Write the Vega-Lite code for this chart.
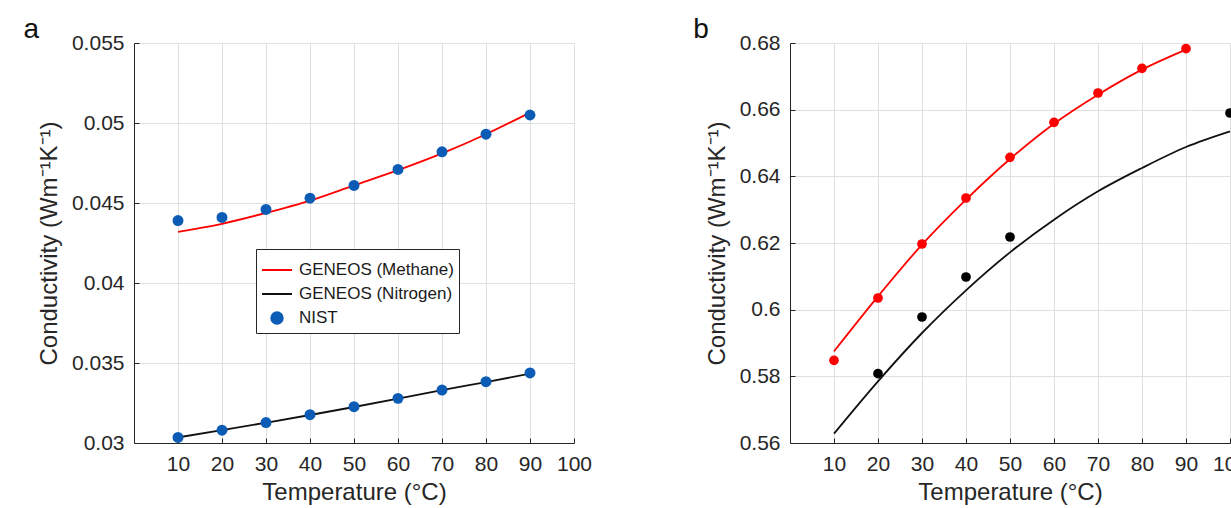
{
  "$schema": "https://vega.github.io/schema/vega-lite/v6.json",
  "background": "white",
  "padding": {"left": 23, "top": 16, "right": 5, "bottom": 2},
  "spacing": 101,
  "config": {
    "font": "Liberation Sans",
    "view": {"stroke": null},
    "axis": {
      "domainColor": "#262626", "tickColor": "#262626", "labelColor": "#262626", "titleColor": "#262626",
      "gridColor": "#e0e0e0", "labelFontSize": 21, "titleFontSize": 24, "titleFontWeight": "normal",
      "tickSize": -5, "labelPadding": 15, "domainWidth": 1, "gridWidth": 1, "labelFlush": false
    },
    "axisY": {"titlePadding": 10},
    "axisX": {"titlePadding": 6},
    "title": {"fontSize": 28, "fontWeight": "normal", "color": "#111111", "anchor": "start", "frame": "bounds", "offset": -12},
    "legend": {
      "orient": "none", "strokeColor": "#262626", "fillColor": "white", "padding": 5,
      "labelColor": "#1a1a1a", "labelOffset": 6, "rowPadding": 0, "labelFont": "Liberation Sans"
    }
  },
  "datasets": {
    "a": [
      {"series": "GENEOS (Methane)", "kind": "line", "T": 10, "k": 0.0432},
      {"series": "GENEOS (Methane)", "kind": "line", "T": 20, "k": 0.0437},
      {"series": "GENEOS (Methane)", "kind": "line", "T": 30, "k": 0.04438},
      {"series": "GENEOS (Methane)", "kind": "line", "T": 40, "k": 0.04515},
      {"series": "GENEOS (Methane)", "kind": "line", "T": 50, "k": 0.0461},
      {"series": "GENEOS (Methane)", "kind": "line", "T": 60, "k": 0.04705},
      {"series": "GENEOS (Methane)", "kind": "line", "T": 70, "k": 0.0481},
      {"series": "GENEOS (Methane)", "kind": "line", "T": 80, "k": 0.0493},
      {"series": "GENEOS (Methane)", "kind": "line", "T": 90, "k": 0.05065},
      {"series": "GENEOS (Nitrogen)", "kind": "line", "T": 10, "k": 0.03035},
      {"series": "GENEOS (Nitrogen)", "kind": "line", "T": 20, "k": 0.0308},
      {"series": "GENEOS (Nitrogen)", "kind": "line", "T": 30, "k": 0.03127},
      {"series": "GENEOS (Nitrogen)", "kind": "line", "T": 40, "k": 0.03175},
      {"series": "GENEOS (Nitrogen)", "kind": "line", "T": 50, "k": 0.03225},
      {"series": "GENEOS (Nitrogen)", "kind": "line", "T": 60, "k": 0.03277},
      {"series": "GENEOS (Nitrogen)", "kind": "line", "T": 70, "k": 0.0333},
      {"series": "GENEOS (Nitrogen)", "kind": "line", "T": 80, "k": 0.03381},
      {"series": "GENEOS (Nitrogen)", "kind": "line", "T": 90, "k": 0.03433},
      {"series": "NIST", "kind": "point", "T": 10, "k": 0.0439},
      {"series": "NIST", "kind": "point", "T": 20, "k": 0.0441},
      {"series": "NIST", "kind": "point", "T": 30, "k": 0.0446},
      {"series": "NIST", "kind": "point", "T": 40, "k": 0.0453},
      {"series": "NIST", "kind": "point", "T": 50, "k": 0.0461},
      {"series": "NIST", "kind": "point", "T": 60, "k": 0.0471},
      {"series": "NIST", "kind": "point", "T": 70, "k": 0.0482},
      {"series": "NIST", "kind": "point", "T": 80, "k": 0.0493},
      {"series": "NIST", "kind": "point", "T": 90, "k": 0.0505},
      {"series": "NIST", "kind": "point", "T": 10, "k": 0.03035},
      {"series": "NIST", "kind": "point", "T": 20, "k": 0.0308},
      {"series": "NIST", "kind": "point", "T": 30, "k": 0.03128},
      {"series": "NIST", "kind": "point", "T": 40, "k": 0.03177},
      {"series": "NIST", "kind": "point", "T": 50, "k": 0.03227},
      {"series": "NIST", "kind": "point", "T": 60, "k": 0.03279},
      {"series": "NIST", "kind": "point", "T": 70, "k": 0.03331},
      {"series": "NIST", "kind": "point", "T": 80, "k": 0.03383},
      {"series": "NIST", "kind": "point", "T": 90, "k": 0.03438}
    ],
    "b": [
      {"series": "GENEOS Pure Water)", "kind": "line", "T": 10, "k": 0.5875},
      {"series": "GENEOS Pure Water)", "kind": "line", "T": 20, "k": 0.604},
      {"series": "GENEOS Pure Water)", "kind": "line", "T": 30, "k": 0.6195},
      {"series": "GENEOS Pure Water)", "kind": "line", "T": 40, "k": 0.633},
      {"series": "GENEOS Pure Water)", "kind": "line", "T": 50, "k": 0.6452},
      {"series": "GENEOS Pure Water)", "kind": "line", "T": 60, "k": 0.6558},
      {"series": "GENEOS Pure Water)", "kind": "line", "T": 70, "k": 0.6645},
      {"series": "GENEOS Pure Water)", "kind": "line", "T": 80, "k": 0.672},
      {"series": "GENEOS Pure Water)", "kind": "line", "T": 90, "k": 0.678},
      {"series": "GENEOS (CaCl₂ solution)", "kind": "line", "T": 10, "k": 0.5628},
      {"series": "GENEOS (CaCl₂ solution)", "kind": "line", "T": 20, "k": 0.5785},
      {"series": "GENEOS (CaCl₂ solution)", "kind": "line", "T": 30, "k": 0.593},
      {"series": "GENEOS (CaCl₂ solution)", "kind": "line", "T": 40, "k": 0.6058},
      {"series": "GENEOS (CaCl₂ solution)", "kind": "line", "T": 50, "k": 0.6172},
      {"series": "GENEOS (CaCl₂ solution)", "kind": "line", "T": 60, "k": 0.627},
      {"series": "GENEOS (CaCl₂ solution)", "kind": "line", "T": 70, "k": 0.6355},
      {"series": "GENEOS (CaCl₂ solution)", "kind": "line", "T": 80, "k": 0.6425},
      {"series": "GENEOS (CaCl₂ solution)", "kind": "line", "T": 90, "k": 0.6488},
      {"series": "GENEOS (CaCl₂ solution)", "kind": "line", "T": 100, "k": 0.6535},
      {"series": "NIST (Pure Water)", "kind": "point", "T": 10, "k": 0.5848},
      {"series": "NIST (Pure Water)", "kind": "point", "T": 20, "k": 0.6035},
      {"series": "NIST (Pure Water)", "kind": "point", "T": 30, "k": 0.6197},
      {"series": "NIST (Pure Water)", "kind": "point", "T": 40, "k": 0.6335},
      {"series": "NIST (Pure Water)", "kind": "point", "T": 50, "k": 0.6457},
      {"series": "NIST (Pure Water)", "kind": "point", "T": 60, "k": 0.6562},
      {"series": "NIST (Pure Water)", "kind": "point", "T": 70, "k": 0.665},
      {"series": "NIST (Pure Water)", "kind": "point", "T": 80, "k": 0.6724},
      {"series": "NIST (Pure Water)", "kind": "point", "T": 90, "k": 0.6783},
      {"series": "EXP data (CaCl₂ solution)", "kind": "point", "T": 20, "k": 0.5808},
      {"series": "EXP data (CaCl₂ solution)", "kind": "point", "T": 30, "k": 0.5978},
      {"series": "EXP data (CaCl₂ solution)", "kind": "point", "T": 40, "k": 0.6098},
      {"series": "EXP data (CaCl₂ solution)", "kind": "point", "T": 50, "k": 0.6218},
      {"series": "EXP data (CaCl₂ solution)", "kind": "point", "T": 100, "k": 0.659}
    ]
  },
  "hconcat": [
    {
      "width": 440, "height": 400,
      "title": {"text": "a", "dx": -14},
      "data": {"name": "a"},
      "encoding": {
        "x": {"field": "T", "type": "quantitative", "scale": {"domain": [0, 100], "nice": false},
              "axis": {"values": [10, 20, 30, 40, 50, 60, 70, 80, 90, 100], "title": "Temperature (°C)", "grid": true}},
        "y": {"field": "k", "type": "quantitative", "scale": {"domain": [0.03, 0.055], "nice": false, "zero": false},
              "axis": {"values": [0.03, 0.035, 0.04, 0.045, 0.05, 0.055], "format": "~g", "title": "Conductivity (Wm⁻¹K⁻¹)", "grid": true}},
        "color": {"field": "series", "type": "nominal",
          "scale": {"domain": ["GENEOS (Methane)", "GENEOS (Nitrogen)", "NIST"], "range": ["#ff0000", "#111111", "#0c5cb6"]},
          "legend": {"title": null, "legendX": 122, "legendY": 206, "labelFontSize": 17, "symbolSize": 900,
            "encode": {"symbols": {"update": {
              "shape": {"signal": "datum.value === 'NIST' ? 'circle' : 'stroke'"},
              "size": {"signal": "datum.value === 'NIST' ? 130 : 900"},
              "fill": {"signal": "datum.value === 'NIST' ? '#0c5cb6' : 'transparent'"},
              "stroke": {"signal": "datum.value === 'NIST' ? '#0c5cb6' : (datum.value === 'GENEOS (Methane)' ? '#ff0000' : '#111111')"},
              "strokeWidth": {"value": 2},
              "opacity": {"value": 1}, "fillOpacity": {"value": 1}, "strokeOpacity": {"value": 1}
            }}}}
        }
      },
      "layer": [
        {"transform": [{"filter": "datum.kind === 'line'"}],
         "mark": {"type": "line", "strokeWidth": 1.8, "interpolate": "monotone"}},
        {"transform": [{"filter": "datum.kind === 'point'"}],
         "mark": {"type": "point", "filled": true, "size": 120, "opacity": 1}}
      ]
    },
    {
      "width": 440, "height": 400,
      "title": {"text": "b", "dx": -12},
      "data": {"name": "b"},
      "encoding": {
        "x": {"field": "T", "type": "quantitative", "scale": {"domain": [0, 100], "nice": false},
              "axis": {"values": [10, 20, 30, 40, 50, 60, 70, 80, 90, 100], "title": "Temperature (°C)", "grid": true}},
        "y": {"field": "k", "type": "quantitative", "scale": {"domain": [0.56, 0.68], "nice": false, "zero": false},
              "axis": {"values": [0.56, 0.58, 0.6, 0.62, 0.64, 0.66, 0.68], "format": "~g", "title": "Conductivity (Wm⁻¹K⁻¹)", "grid": true}}
      },
      "layer": [
        {"transform": [{"filter": "datum.kind === 'line'"}],
         "mark": {"type": "line", "strokeWidth": 1.8, "interpolate": "monotone"},
         "encoding": {
           "stroke": {"field": "series", "type": "nominal",
             "scale": {"domain": ["GENEOS Pure Water)", "GENEOS (CaCl₂ solution)"], "range": ["#ff0000", "#111111"]},
             "legend": null}
         }},
        {"transform": [{"filter": "datum.kind === 'point'"}],
         "mark": {"type": "point", "filled": true, "size": 95, "opacity": 1},
         "encoding": {
           "fill": {"field": "series", "type": "nominal",
             "scale": {"domain": ["NIST (Pure Water)", "EXP data (CaCl₂ solution)"], "range": ["#ff0000", "#000000"]},
             "legend": null}
         }}
      ]
    }
  ]
}
